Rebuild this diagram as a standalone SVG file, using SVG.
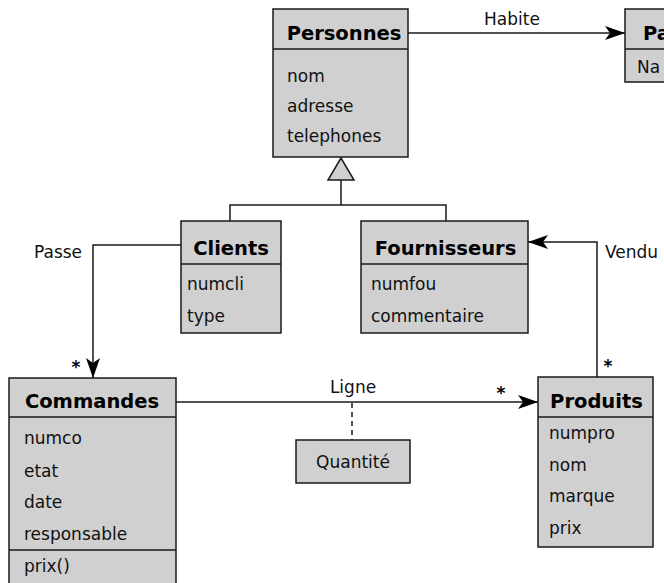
<svg xmlns="http://www.w3.org/2000/svg" width="664" height="583" viewBox="0 0 664 583">
  <style>
    .box { fill: #d0d0d0; stroke: #1a1a1a; stroke-width: 1.5; }
    .sep { stroke: #1a1a1a; stroke-width: 1.5; fill: none; }
    .title { font-family: "DejaVu Sans", "Liberation Sans", sans-serif; font-weight: bold; font-size: 19.5px; fill: #000; }
    .attr { font-family: "DejaVu Sans", "Liberation Sans", sans-serif; font-size: 17px; fill: #111; }
    .lbl { font-family: "DejaVu Sans", "Liberation Sans", sans-serif; font-size: 17px; fill: #111; }
    .mult { font-family: "DejaVu Sans", "Liberation Sans", sans-serif; font-weight: bold; font-size: 17px; fill: #000; }
    .line { stroke: #1a1a1a; stroke-width: 1.5; fill: none; }
    .dash { stroke: #1a1a1a; stroke-width: 1.5; fill: none; stroke-dasharray: 5 4; }
  </style>
  <defs>
    <marker id="arrow" viewBox="0 0 20 14" refX="20" refY="7" markerWidth="20" markerHeight="14" markerUnits="userSpaceOnUse" orient="auto">
      <path d="M0,0 L20,7 L0,14 L5,7 Z" fill="#000"/>
    </marker>
  </defs>

  <!-- connectors -->
  <g id="connectors">
    <!-- Habite -->
    <line class="line" x1="408" y1="33" x2="625" y2="33" marker-end="url(#arrow)"/>
    <text class="lbl" x="512" y="25" text-anchor="middle">Habite</text>
    <!-- generalization -->
    <polygon points="341,158 328,180 354,180" fill="#d0d0d0" stroke="#1a1a1a" stroke-width="1.5"/>
    <polyline class="line" points="341,180 341,205"/>
    <polyline class="line" points="230,221 230,205 446,205 446,221"/>
    <!-- Passe -->
    <polyline class="line" points="181,245 93,245 93,378" marker-end="url(#arrow)"/>
    <text class="lbl" x="34" y="258">Passe</text>
    <text class="mult" x="76" y="373" text-anchor="middle">*</text>
    <!-- Vendu -->
    <polyline class="line" points="597,377 597,242 528,242" marker-end="url(#arrow)"/>
    <text class="lbl" x="605" y="258">Vendu</text>
    <text class="mult" x="608" y="372" text-anchor="middle">*</text>
    <!-- Ligne -->
    <line class="line" x1="176" y1="402" x2="538" y2="402" marker-end="url(#arrow)"/>
    <text class="lbl" x="353" y="393" text-anchor="middle">Ligne</text>
    <text class="mult" x="501" y="399" text-anchor="middle">*</text>
    <line class="dash" x1="352" y1="403" x2="352" y2="440"/>
  </g>

  <g id="personnes">
    <rect class="box" x="273" y="9" width="135" height="148"/>
    <line class="sep" x1="273" y1="49" x2="408" y2="49"/>
    <text class="title" x="344" y="40" text-anchor="middle">Personnes</text>
    <text class="attr" x="287" y="82">nom</text>
    <text class="attr" x="287" y="112">adresse</text>
    <text class="attr" x="287" y="142">telephones</text>
  </g>

  <g id="pays">
    <rect class="box" x="625" y="9" width="60" height="73"/>
    <line class="sep" x1="625" y1="49" x2="685" y2="49"/>
    <text class="title" x="643" y="40">Pa</text>
    <text class="attr" x="637" y="73">Na</text>
  </g>

  <g id="clients">
    <rect class="box" x="181" y="221" width="100" height="112"/>
    <line class="sep" x1="181" y1="264" x2="281" y2="264"/>
    <text class="title" x="231" y="255" text-anchor="middle">Clients</text>
    <text class="attr" x="187" y="290">numcli</text>
    <text class="attr" x="187" y="322">type</text>
  </g>

  <g id="fournisseurs">
    <rect class="box" x="361" y="221" width="167" height="112"/>
    <line class="sep" x1="361" y1="264" x2="528" y2="264"/>
    <text class="title" x="445.5" y="255" text-anchor="middle">Fournisseurs</text>
    <text class="attr" x="371" y="290">numfou</text>
    <text class="attr" x="371" y="322">commentaire</text>
  </g>

  <g id="commandes">
    <rect class="box" x="9" y="378" width="167" height="215"/>
    <line class="sep" x1="9" y1="417" x2="176" y2="417"/>
    <line class="sep" x1="9" y1="550" x2="176" y2="550"/>
    <text class="title" x="92" y="408" text-anchor="middle">Commandes</text>
    <text class="attr" x="24" y="444">numco</text>
    <text class="attr" x="24" y="477">etat</text>
    <text class="attr" x="24" y="508">date</text>
    <text class="attr" x="24" y="540">responsable</text>
    <text class="attr" x="24" y="572">prix()</text>
  </g>

  <g id="produits">
    <rect class="box" x="538" y="377" width="115" height="170"/>
    <line class="sep" x1="538" y1="417" x2="653" y2="417"/>
    <text class="title" x="596.5" y="408" text-anchor="middle">Produits</text>
    <text class="attr" x="549" y="439">numpro</text>
    <text class="attr" x="549" y="471">nom</text>
    <text class="attr" x="549" y="502">marque</text>
    <text class="attr" x="549" y="534">prix</text>
  </g>

  <g id="quantite">
    <rect class="box" x="296" y="440" width="114" height="43"/>
    <text class="lbl" x="353" y="468" text-anchor="middle">Quantité</text>
  </g>
</svg>
